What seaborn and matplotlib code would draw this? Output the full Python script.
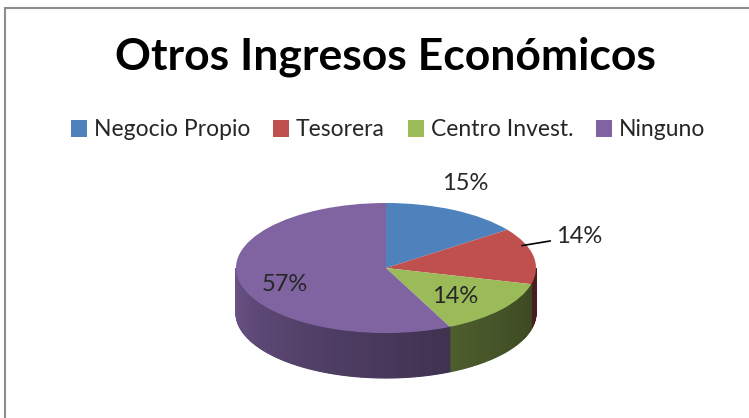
import numpy as np
import matplotlib
matplotlib.use("Agg")
import matplotlib.pyplot as plt
import matplotlib.patches as mpatches
import matplotlib.transforms as mtransforms
from matplotlib.colors import to_rgb
import seaborn as sns

# data
categories = ["Negocio Propio", "Tesorera", "Centro Invest.", "Ninguno"]
shares = [15, 14, 14, 57]
pct_labels = ["15%", "14%", "14%", "57%"]
slice_colors = ["#4F81BD", "#C0504D", "#9BBB59", "#8064A2"]

sns.set_theme(style="white")
plt.rcParams["font.family"] = ["Lato", "DejaVu Sans"]

W, H = 749, 418
fig = plt.figure(figsize=(W / 100, H / 100), dpi=100)
ax = fig.add_axes([0, 0, 1, 1])

# pie geometry (pixel units, y up)
cx, cy = 386, 150
rx, ry = 150, 65
depth = 45
squash = mtransforms.Affine2D().translate(-cx, -cy).scale(1, ry / rx).translate(cx, cy)

starts = 90 - np.cumsum([0] + shares[:-1]) * 3.6
ends = starts - np.array(shares) * 3.6


def shade(t):
    # darker towards the right of the front side
    return 0.88 - 0.52 * ((t - 180) / 180) ** 0.7


# side band of the 3d pie (front half only)
for start, end, col in zip(starts, ends, slice_colors):
    base = np.array(to_rgb(col))
    for k in range(-1, 2):
        lo = max(end + 360 * k, 180)
        hi = min(start + 360 * k, 360)
        if lo >= hi:
            continue
        t = np.linspace(lo, hi, int(hi - lo) + 2)
        for a0, a1 in zip(t[:-1], t[1:]):
            r0, r1 = np.radians(a0), np.radians(a1)
            x0, x1 = cx + rx * np.cos(r0), cx + rx * np.cos(r1)
            y0, y1 = cy + ry * np.sin(r0), cy + ry * np.sin(r1)
            c = np.clip(base * shade((a0 + a1) / 2), 0, 1)
            ax.add_patch(mpatches.Polygon([(x0, y0), (x1, y1), (x1, y1 - depth), (x0, y0 - depth)],
                                          closed=True, facecolor=c, edgecolor=c, lw=0.8))

# top face
wedges, _ = ax.pie(shares, colors=slice_colors, startangle=90, counterclock=False,
                   center=(cx, cy), radius=rx, wedgeprops=dict(linewidth=0))
for w in wedges:
    w.set_transform(squash + ax.transData)
    w.set_zorder(3)

# percentage labels
label_r = [1.41, 1.38, 0.64, 0.72]
label_shift = [5, 10, -4, 8]
for i, (start, end) in enumerate(zip(starts, ends)):
    a = np.radians((start + end) / 2 + label_shift[i])
    tx, ty = cx + label_r[i] * rx * np.cos(a), cy + label_r[i] * ry * np.sin(a)
    if i == 1:
        ax.annotate(pct_labels[i], xy=(cx + 0.97 * rx * np.cos(a), cy + 0.97 * ry * np.sin(a)),
                    xytext=(tx, ty), ha="center", va="center", fontsize=17, zorder=5,
                    arrowprops=dict(arrowstyle="-", color="black", lw=1.2, shrinkA=2, shrinkB=0))
    else:
        ax.text(tx, ty, pct_labels[i], ha="center", va="center", fontsize=17, zorder=5)

# title and legend
ax.text(385, H - 57, "Otros Ingresos Económicos", ha="center", va="center",
        fontsize=32, fontweight="bold", color="black")
fig.legend(wedges, categories, loc="center", bbox_to_anchor=(388 / W, 1 - 130 / H), ncol=4,
           frameon=False, fontsize=16.5, handlelength=0.7, handleheight=0.7,
           handletextpad=0.3, columnspacing=1.0)

# chart border
ax.add_patch(mpatches.Rectangle((5, -10), W + 10, H - 8 + 10, fill=False,
                                edgecolor="#8c8c8c", lw=1.5))

ax.set_xlim(0, W)
ax.set_ylim(0, H)
ax.set_aspect("auto")
ax.axis("off")

fig.savefig("out.png", dpi=100, facecolor="white")
